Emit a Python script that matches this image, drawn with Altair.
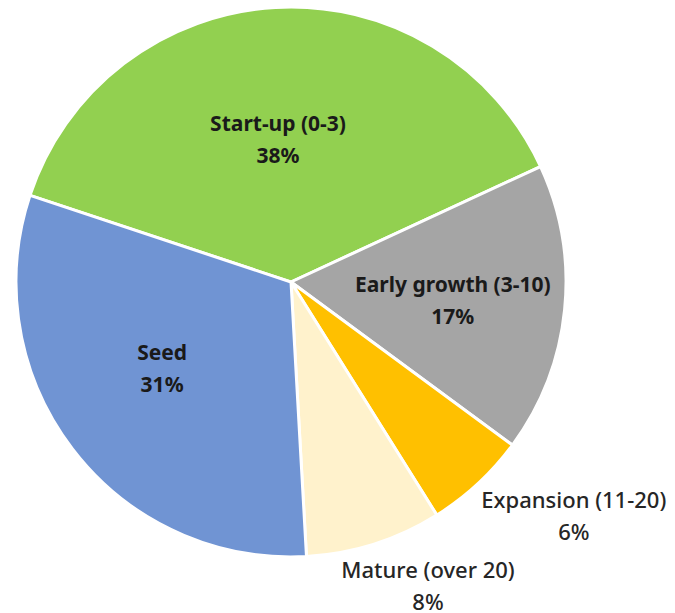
import altair as alt
import pandas as pd

categories = ["Start-up (0-3)", "Early growth (3-10)", "Expansion (11-20)", "Mature (over 20)", "Seed"]
shares = [38, 17, 6, 8, 31]
colors = ["#92D050", "#A5A5A5", "#FFC000", "#FFF2CC", "#7094D3"]

df = pd.DataFrame({"cat": categories, "pct": shares, "order": range(len(categories))})

start = 5.033
theta_scale = alt.Scale(domain=[0, 100], range=[start, start + 6.283185307])
CX, CY = 291, 282

pie = alt.Chart(df).mark_arc(outerRadius=275, stroke="white", strokeWidth=3).encode(
    theta=alt.Theta("pct:Q", stack=True, scale=theta_scale),
    order=alt.Order("order:Q"),
    x=alt.value(CX),
    y=alt.value(CY),
    color=alt.Color("cat:N", scale=alt.Scale(domain=categories, range=colors), legend=None),
)

lab = alt.Chart(df).transform_window(
    cum="sum(pct)", sort=[alt.SortField("order")]
).transform_calculate(
    mid="datum.cum - datum.pct / 2",
    label="[datum.cat, datum.pct + '%']",
).encode(
    theta=alt.Theta("mid:Q", scale=theta_scale),
    x=alt.value(CX),
    y=alt.value(CY),
    text="label:N",
)

# label placement styles: (radius, theta offset, bold, font size)
placement = {
    "Start-up (0-3)": (142, -0.035, True, 21),
    "Early growth (3-10)": (163, 0.02, True, 21),
    "Seed": (156, 0.055, True, 21),
    "Expansion (11-20)": (368, -0.129, False, 22),
    "Mature (over 20)": (334, -0.115, False, 22),
}

layers = [pie]
for cat, (r, off, bold, fs) in placement.items():
    layers.append(
        lab.transform_filter(alt.datum.cat == cat).mark_text(
            radius=r, thetaOffset=off, font="Noto Sans", fontSize=fs,
            fontWeight="bold" if bold else 500,
            color="#1a1a1a" if bold else "#262626",
            lineHeight=32, baseline="middle", align="center", dy=-16,
        )
    )

chart = alt.layer(*layers).properties(
    width=675, height=613, padding=0, autosize=alt.AutoSizeParams(type="none")
).configure_view(stroke=None)

chart.save("out.html", embed_options={"renderer": "svg", "actions": False})
